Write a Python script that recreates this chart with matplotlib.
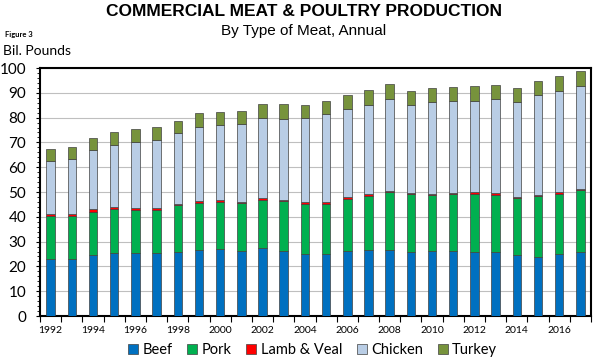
import numpy as np
import matplotlib.pyplot as plt

# Datos (miles de millones de libras)
years = list(range(1992, 2018))
# topes acumulados leidos y luego convertidos a segmentos
beef_top = [23.0, 23.0, 24.4, 25.3, 25.6, 25.6, 26.0, 26.7, 27.0, 26.3, 27.4, 26.4, 24.8,
            25.1, 26.3, 26.5, 26.8, 26.0, 26.4, 26.4, 26.0, 25.9, 24.4, 23.9, 24.8, 25.7]
pork_top = [40.3, 40.3, 42.0, 43.0, 42.6, 42.7, 44.7, 45.6, 46.1, 45.4, 46.9, 46.2, 45.3,
            45.3, 47.2, 48.5, 49.9, 49.2, 48.8, 49.2, 49.3, 48.9, 47.4, 48.4, 49.3, 50.9]
lamb_top = [41.1, 41.0, 43.0, 43.9, 43.5, 43.5, 45.3, 46.4, 46.6, 46.0, 47.6, 46.9, 45.8,
            46.1, 47.8, 49.1, 50.5, 49.7, 49.3, 49.6, 49.9, 49.5, 48.0, 48.9, 49.9, 51.3]
chicken_top = [62.5, 63.2, 66.8, 69.1, 70.0, 70.9, 73.6, 76.3, 77.1, 77.4, 79.8, 79.5, 79.9,
               81.3, 83.3, 85.0, 87.5, 85.0, 86.3, 86.8, 86.8, 87.3, 86.1, 89.1, 90.8, 92.9]
turkey_top = [67.2, 68.1, 71.8, 74.3, 75.3, 76.4, 78.6, 81.7, 82.3, 82.7, 85.6, 85.3, 85.2,
              86.8, 89.1, 91.1, 93.5, 90.7, 91.8, 92.5, 92.7, 93.3, 91.9, 94.7, 96.9, 98.8]

names = ["Beef", "Pork", "Lamb & Veal", "Chicken", "Turkey"]
colores = ["#0070C0", "#00B050", "#FF0000", "#B9CDE5", "#77933C"]

tops = np.array([beef_top, pork_top, lamb_top, chicken_top, turkey_top])
segs = np.diff(np.vstack([np.zeros(len(years)), tops]), axis=0)

fig = plt.figure(figsize=(5.95, 3.63), dpi=100)
ax = fig.add_axes([40/595, 1-316/363, 551/595, 248/363])

x = np.arange(len(years))
bottom = np.zeros(len(years))
for i in range(len(names)):
    ax.bar(x, segs[i], 0.4, bottom=bottom, color=colores[i], edgecolor="#404040",
           linewidth=0.5, label=names[i], zorder=3)
    bottom = bottom + segs[i]

ax.set_xlim(-0.5, len(years) - 0.5)
ax.set_ylim(0, 100)
ax.set_yticks(range(0, 101, 10))
ax.set_yticks(range(0, 101, 2), minor=True)
ax.tick_params(axis="y", which="major", labelsize=11, length=3, pad=7)
ax.tick_params(axis="y", which="minor", length=2)
for lab in ax.get_yticklabels():
    lab.set_fontfamily("Lato")
ax.yaxis.grid(True, color="#BFBFBF", linewidth=0.8, zorder=0)

# ticks en los bordes de las categorias, etiquetas cada dos anos
ax.set_xticks(np.arange(-0.5, len(years), 1))
ax.set_xticklabels([])
ax.tick_params(axis="x", which="major", length=4, direction="out")
ax.set_xticks(x[::2], minor=True)
ax.set_xticklabels([str(y) for y in years[::2]], minor=True, fontsize=7.5,
                   fontfamily="Lato")
ax.tick_params(axis="x", which="minor", length=0, pad=7)

for s in ax.spines.values():
    s.set_color("black")
    s.set_linewidth(1.5)

fig.text(0.511, 1-11/363, "COMMERCIAL MEAT & POULTRY PRODUCTION", ha="center", va="center",
         fontsize=12.5, fontweight="bold", fontfamily="Liberation Sans")
fig.text(0.511, 1-31/363, "By Type of Meat, Annual", ha="center", va="center",
         fontsize=11, fontfamily="Liberation Sans")
fig.text(5/595, 1-35/363, "Figure 3", ha="left", va="center", fontsize=5.5,
         fontweight="bold", fontfamily="Lato")
fig.text(3/595, 1-51/363, "Bil. Pounds", ha="left", va="center", fontsize=10,
         fontfamily="Lato")

leg = fig.legend(loc="center", bbox_to_anchor=(0.525, 1-350/363), ncol=5, frameon=False,
                 handlelength=0.7, handleheight=0.7, handletextpad=0.3,
                 columnspacing=1.0, prop={"family": "Lato", "size": 10.5})

fig.savefig("out.png", dpi=100)
